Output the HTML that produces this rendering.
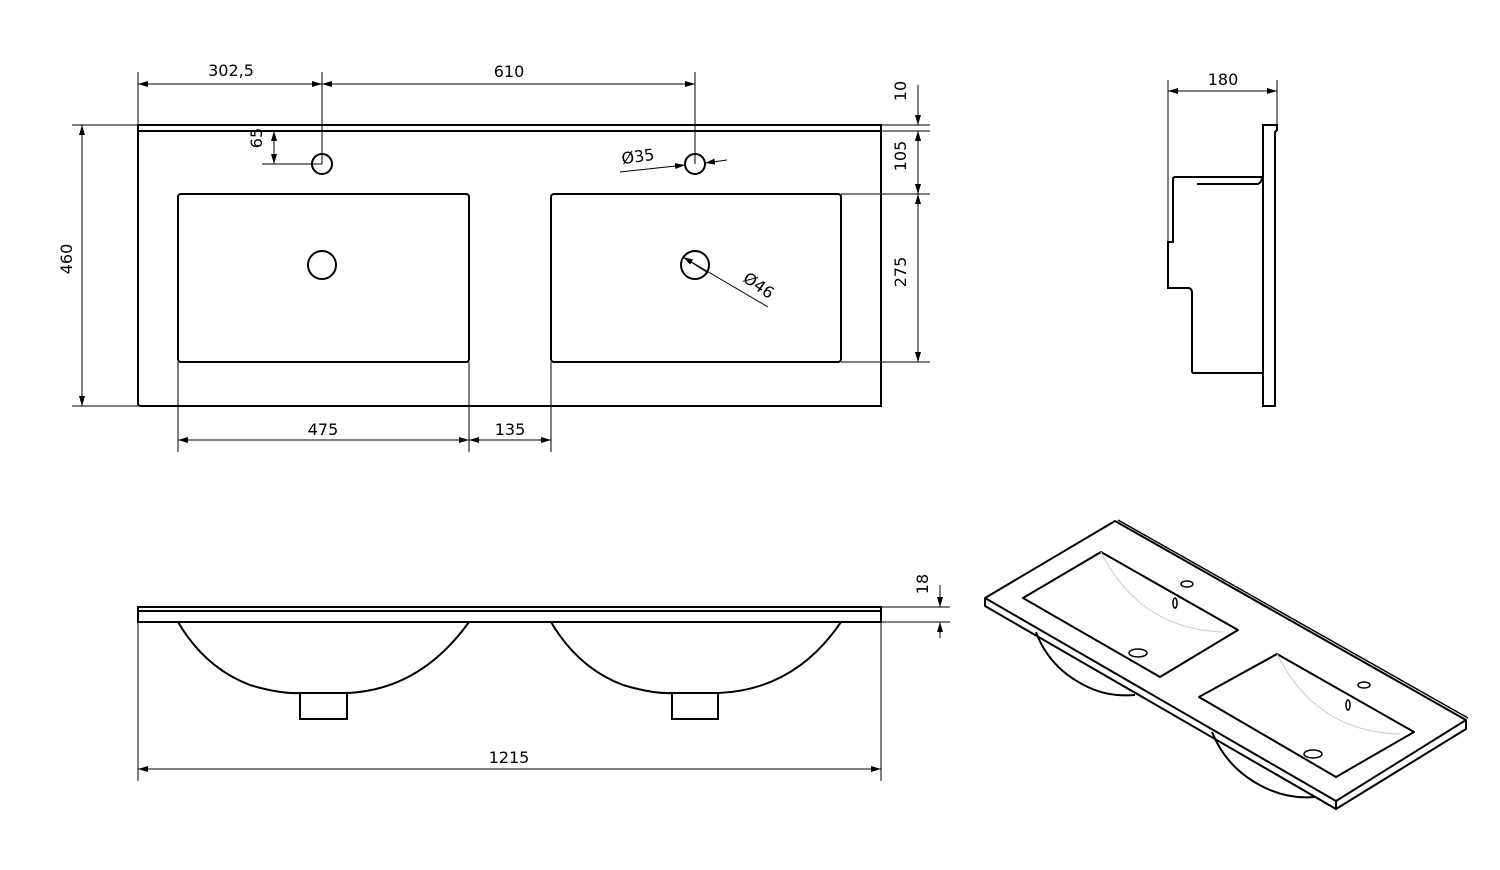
<!DOCTYPE html>
<html><head><meta charset="utf-8"><style>
html,body{margin:0;padding:0;background:#fff;}
svg{display:block;}
text{font-family:"DejaVu Sans","Liberation Sans",sans-serif;font-size:16px;fill:#000;}
</style></head><body>
<svg width="1500" height="870" viewBox="0 0 1500 870" xmlns="http://www.w3.org/2000/svg">
<defs>
<marker id="a" viewBox="0 0 10 6" refX="10" refY="3" markerWidth="10" markerHeight="6" orient="auto-start-reverse" markerUnits="userSpaceOnUse"><path d="M0,0 L10,3 L0,6 z" fill="#000"/></marker>
</defs>
<g fill="none" stroke="#000">
<!-- top view -->
<path d="M138,125 H881 V406 H141 Q138,406 138,403 Z" stroke-width="2"/>
<line x1="138" y1="131" x2="881" y2="131" stroke-width="2"/>
<rect x="178" y="194" width="291" height="168" rx="3" stroke-width="2"/>
<rect x="551" y="194" width="290" height="168" rx="3" stroke-width="2"/>
<circle cx="322" cy="164" r="10" stroke-width="2"/>
<circle cx="695" cy="164" r="10" stroke-width="2"/>
<circle cx="322" cy="265" r="14" stroke-width="2"/>
<circle cx="695" cy="265" r="14" stroke-width="2"/>
<g stroke-width="1">
<line x1="138" y1="72" x2="138" y2="125"/>
<line x1="322" y1="72" x2="322" y2="164"/>
<line x1="695" y1="72" x2="695" y2="164"/>
<line x1="138" y1="84" x2="322" y2="84" marker-start="url(#a)" marker-end="url(#a)"/>
<line x1="322" y1="84" x2="695" y2="84" marker-start="url(#a)" marker-end="url(#a)"/>
<line x1="72" y1="125" x2="138" y2="125"/>
<line x1="72" y1="406" x2="138" y2="406"/>
<line x1="82" y1="125" x2="82" y2="406" marker-start="url(#a)" marker-end="url(#a)"/>
<line x1="274" y1="131" x2="274" y2="164" marker-start="url(#a)" marker-end="url(#a)"/>
<line x1="262" y1="164" x2="322" y2="164"/>
<line x1="178" y1="362" x2="178" y2="452"/>
<line x1="469" y1="362" x2="469" y2="452"/>
<line x1="551" y1="362" x2="551" y2="452"/>
<line x1="178" y1="440" x2="469" y2="440" marker-start="url(#a)" marker-end="url(#a)"/>
<line x1="469" y1="440" x2="551" y2="440" marker-start="url(#a)" marker-end="url(#a)"/>
<line x1="881" y1="125" x2="930" y2="125"/>
<line x1="881" y1="131" x2="930" y2="131"/>
<line x1="841" y1="194" x2="930" y2="194"/>
<line x1="841" y1="362" x2="930" y2="362"/>
<line x1="918" y1="85" x2="918" y2="125" marker-end="url(#a)"/>
<line x1="918" y1="145" x2="918" y2="131" marker-end="url(#a)"/>
<line x1="918" y1="131" x2="918" y2="194" marker-start="url(#a)" marker-end="url(#a)"/>
<line x1="918" y1="194" x2="918" y2="362" marker-start="url(#a)" marker-end="url(#a)"/>
<line x1="620" y1="172" x2="685" y2="165" marker-end="url(#a)"/>
<line x1="727" y1="160" x2="705" y2="163" marker-end="url(#a)"/>
<line x1="768" y1="307" x2="683" y2="257" marker-end="url(#a)"/>
<line x1="708" y1="273" x2="683" y2="257"/>
</g>
<!-- side view -->
<g stroke-width="2">
<path d="M1263,406 V125 H1277 V130 L1275,132 V406 Z"/>
<path d="M1262,177 H1175 Q1173,177 1173,179 V242 H1168 V288 H1188 Q1192,288 1192,293 V371 Q1192,373 1194,373 H1262"/>
<path d="M1197,184 H1258 Q1262,182 1262,177"/>
</g>
<g stroke-width="1">
<line x1="1168" y1="80" x2="1168" y2="242"/>
<line x1="1277" y1="80" x2="1277" y2="125"/>
<line x1="1168" y1="91" x2="1277" y2="91" marker-start="url(#a)" marker-end="url(#a)"/>
</g>
<!-- front view -->
<g stroke-width="2">
<rect x="138" y="607" width="743" height="15"/>
<line x1="138" y1="611" x2="881" y2="611"/>
<path d="M178,622 Q205,668 250,685 Q280,694 300,693 M347,693 Q420,690 469,622"/>
<path d="M300,719 V693 H347 V719 Z"/>
<path d="M551,622 Q578,668 623,685 Q653,694 672,693 M718,693 Q795,690 841,622"/>
<path d="M672,719 V693 H718 V719 Z"/>
</g>
<g stroke-width="1">
<line x1="138" y1="622" x2="138" y2="781"/>
<line x1="881" y1="622" x2="881" y2="781"/>
<line x1="138" y1="769" x2="881" y2="769" marker-start="url(#a)" marker-end="url(#a)"/>
<line x1="881" y1="607" x2="950" y2="607"/>
<line x1="881" y1="622" x2="950" y2="622"/>
<line x1="940" y1="585" x2="940" y2="607" marker-end="url(#a)"/>
<line x1="940" y1="638" x2="940" y2="622" marker-end="url(#a)"/>
</g>
<!-- iso view -->
<g stroke-width="2" stroke-linejoin="round">
<path d="M1036,632 Q1050,670 1090,688 Q1110,697 1135,695" />
<path d="M1212,732 Q1228,772 1270,790 Q1292,799 1315,797" />
<path d="M985,598 L1115,521 L1466,720 L1336,801 Z" fill="#fff"/>
<path d="M985,598 V606 L1336,809 L1466,729 V720"/>
<line x1="1336" y1="801" x2="1336" y2="809"/>
<line x1="1118" y1="520" x2="1468" y2="718" stroke-width="1.5"/>
<path d="M1023,598 L1101,552 L1238,630 L1160,677 Z"/>
<path d="M1199,697 L1277,654 L1414,732 L1336,777 Z"/>
<ellipse cx="1187" cy="584" rx="6" ry="3" stroke-width="1.5"/>
<ellipse cx="1364" cy="685" rx="6" ry="3" stroke-width="1.5"/>
<ellipse cx="1175" cy="603" rx="2" ry="5" stroke-width="1.5"/>
<ellipse cx="1348" cy="705" rx="2" ry="5" stroke-width="1.5"/>
<ellipse cx="1138" cy="653" rx="9" ry="4" stroke-width="1.5"/>
<ellipse cx="1313" cy="754" rx="9" ry="4" stroke-width="1.5"/>
</g>
<g stroke="#ccc" stroke-width="1">
<path d="M1101,552 Q1140,630 1225,632"/>
<path d="M1277,654 Q1316,732 1400,734"/>
</g>
</g>
<text x="231" y="76" text-anchor="middle">302,5</text>
<text x="509" y="77" text-anchor="middle">610</text>
<text x="78" y="265" text-anchor="middle" transform="rotate(-90 72 265)">460</text>
<text x="268" y="144" text-anchor="middle" transform="rotate(-90 262 144)">65</text>
<text x="323" y="435" text-anchor="middle">475</text>
<text x="510" y="435" text-anchor="middle">135</text>
<text x="638" y="162" text-anchor="middle" transform="rotate(-8 638 157)">Ø35</text>
<text x="759" y="291" text-anchor="middle" transform="rotate(35 759 285)">Ø46</text>
<text x="912" y="97" text-anchor="middle" transform="rotate(-90 906 97)">10</text>
<text x="912" y="162" text-anchor="middle" transform="rotate(-90 906 162)">105</text>
<text x="912" y="278" text-anchor="middle" transform="rotate(-90 906 278)">275</text>
<text x="1223" y="85" text-anchor="middle">180</text>
<text x="509" y="763" text-anchor="middle">1215</text>
<text x="934" y="590" text-anchor="middle" transform="rotate(-90 928 590)">18</text>
</svg>
</body></html>
